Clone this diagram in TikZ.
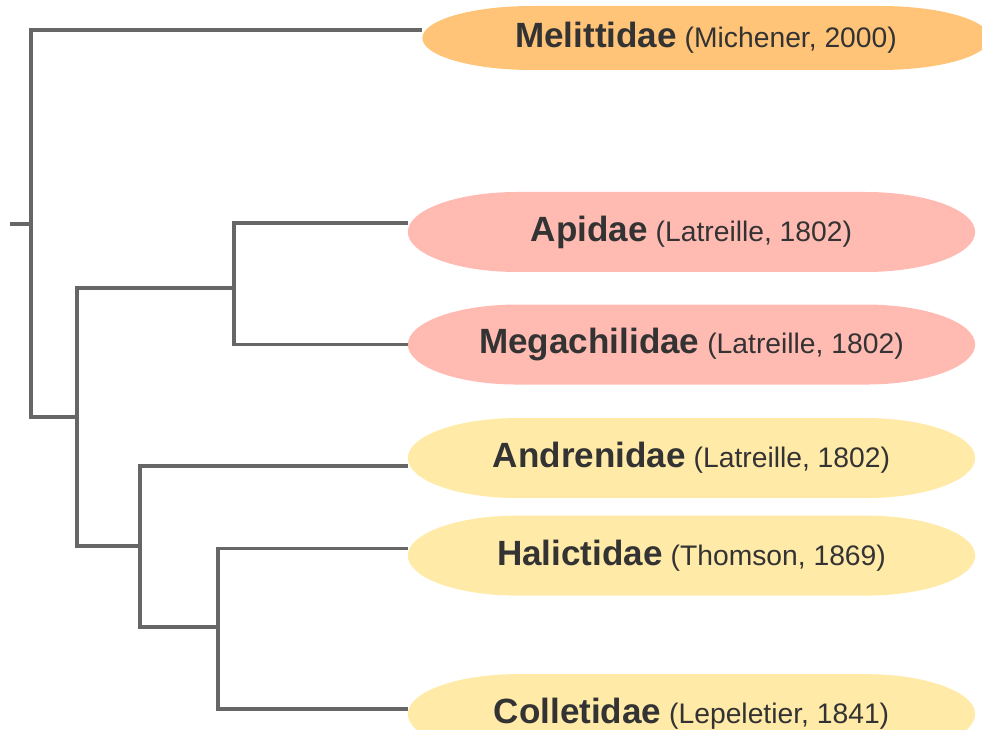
\documentclass[tikz,border=0pt]{standalone}
\usepackage{fontspec}
\setmainfont{Liberation Sans}
\usepackage{tikz}
\usetikzlibrary{positioning}
\definecolor{branchgray}{HTML}{666666}
\definecolor{textgray}{HTML}{333333}
\definecolor{melorange}{HTML}{FFC477}
\definecolor{longpink}{HTML}{FFBAB2}
\definecolor{shortyellow}{HTML}{FFEAA8}
\newcommand{\taxlabel}[2]{{\bfseries\fontsize{26.3}{31}\selectfont #1}{\fontsize{21.2}{25}\selectfont\ (#2)}}

\begin{document}
\begin{tikzpicture}[x=0.75pt, y=-0.75pt,
  branch/.style={draw=branchgray, line width=2.6pt},
  taxon node/.style 2 args={rectangle, inner sep=0pt, minimum width=425.5pt, minimum height=#2, text=textgray,
    path picture={\fill[#1] (path picture bounding box.west)
      arc[start angle=180, end angle=90, x radius=82pt, y radius=#2/2]
      -- ([xshift=-82pt]path picture bounding box.north east)
      arc[start angle=90, end angle=-90, x radius=82pt, y radius=#2/2]
      -- ([xshift=82pt]path picture bounding box.south west)
      arc[start angle=270, end angle=180, x radius=82pt, y radius=#2/2] -- cycle;}}]

  \useasboundingbox (0,0) rectangle (982,730);

  % leaves
  \node[taxon node={melorange}{48pt}] (melittidae) at (706,38) {\taxlabel{Melittidae}{Michener, 2000}};
  \node[taxon node={longpink}{60pt}] (apidae) at (691.5,232) {\taxlabel{Apidae}{Latreille, 1802}};
  \node[taxon node={longpink}{60pt}] (megachilidae) [below=24pt of apidae] {\taxlabel{Megachilidae}{Latreille, 1802}};
  \node[taxon node={shortyellow}{60pt}] (andrenidae) [below=24.75pt of megachilidae] {\taxlabel{Andrenidae}{Latreille, 1802}};
  \node[taxon node={shortyellow}{60pt}] (halictidae) [below=12.75pt of andrenidae] {\taxlabel{Halictidae}{Thomson, 1869}};
  \node[taxon node={shortyellow}{60pt}] (colletidae) [below=58.5pt of halictidae] {\taxlabel{Colletidae}{Lepeletier, 1841}};

  % inner splits
  \coordinate (stub) at (10,224);
  \coordinate (root) at (31,224);
  \coordinate (c1) at (77,417);
  \coordinate (c2) at (234,288);
  \coordinate (c3) at (140,546);
  \coordinate (c4) at (218,627);

  \draw[branch] (stub) -- (root);
  \draw[branch] (root) |- ([yshift=6pt]melittidae.west);
  \draw[branch] (root) |- (c1);
  \draw[branch] (c1) |- (c2);
  \draw[branch] (c1) |- (c3);
  \draw[branch] (c2) |- ([yshift=6.75pt]apidae.west);
  \draw[branch] (c2) |- (megachilidae.west);
  \draw[branch] (c3) |- ([yshift=-6pt]andrenidae.west);
  \draw[branch] (c3) |- (c4);
  \draw[branch] (c4) |- ([yshift=5.25pt]halictidae.west);
  \draw[branch] (c4) |- ([yshift=4pt]colletidae.west);
\end{tikzpicture}
\end{document}
